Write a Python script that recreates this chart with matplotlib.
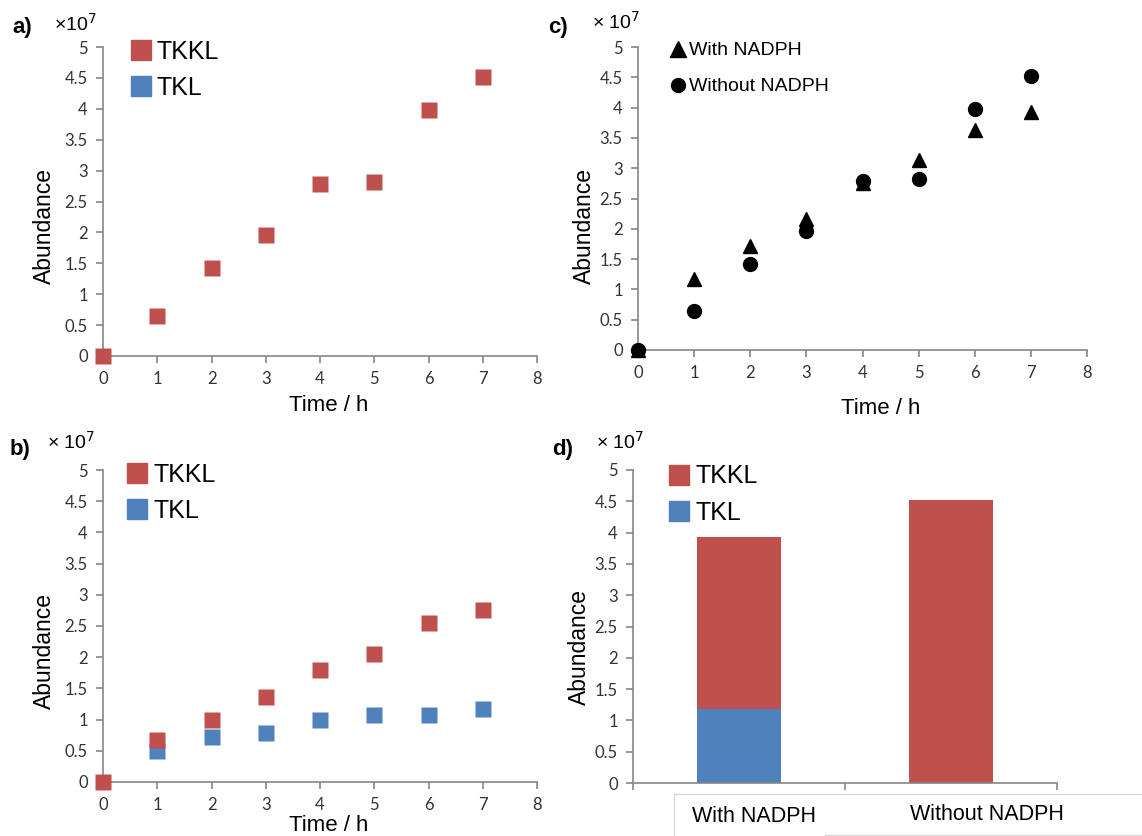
import matplotlib
matplotlib.use("Agg")
import matplotlib.pyplot as plt
from matplotlib.lines import Line2D
from matplotlib.ticker import FormatStrFormatter

# data (abundance in units of 1e7)
hours = [0, 1, 2, 3, 4, 5, 6, 7]
tkkl_a = [0, 0.65, 1.42, 1.96, 2.79, 2.82, 3.98, 4.52]
tkkl_b = [0, 0.67, 0.99, 1.36, 1.79, 2.05, 2.55, 2.76]
tkl_b = [None, 0.50, 0.72, 0.79, 0.99, 1.08, 1.08, 1.17]
with_nadph = [0, 1.17, 1.72, 2.16, 2.75, 3.14, 3.63, 3.93]
without_nadph = [0, 0.65, 1.42, 1.96, 2.79, 2.82, 3.98, 4.52]
conditions = ["With NADPH", "Without NADPH"]
tkl_d = [1.18, 0]
tkkl_d = [2.75, 4.52]

RED = "#C0504D"
BLUE = "#4F81BD"
GREY = "#868686"
TICKFONT = "Lato"
LABELFONT = "Liberation Sans"

W, H = 1142, 836
fig = plt.figure(figsize=(W / 100, H / 100), dpi=100)


def px_axes(left, right, top, bottom):
    return fig.add_axes([left / W, 1 - bottom / H, (right - left) / W, (bottom - top) / H])


def style(ax, ylab_x, ylab_y):
    for s in ["top", "right"]:
        ax.spines[s].set_visible(False)
    for s in ["left", "bottom"]:
        ax.spines[s].set_color(GREY)
        ax.spines[s].set_linewidth(1.2)
    ax.set_ylim(0, 5)
    ax.set_yticks([i * 0.5 for i in range(11)])
    ax.yaxis.set_major_formatter(FormatStrFormatter("%g"))
    ax.tick_params(direction="out", length=5, width=1.2, color=GREY,
                   labelsize=12, labelcolor="#333333", pad=6)
    for lab in ax.get_yticklabels() + ax.get_xticklabels():
        lab.set_fontfamily(TICKFONT)
    ax.set_ylabel("Abundance", fontsize=16.5, fontfamily=LABELFONT)
    ax.yaxis.set_label_coords(ylab_x, ylab_y)


def scatter_axes(ax, ylab_x, ylab_y, xlab_x, xlab_y):
    ax.set_xlim(0, 8)
    ax.set_xticks(range(9))
    style(ax, ylab_x, ylab_y)
    ax.set_xlabel("Time / h", fontsize=16, fontfamily=LABELFONT)
    ax.xaxis.set_label_coords(xlab_x, xlab_y)


def sq_handles(ms=14):
    return [Line2D([], [], ls="", marker="s", ms=ms, color=RED, label="TKKL"),
            Line2D([], [], ls="", marker="s", ms=ms, color=BLUE, label="TKL")]


def sq_legend(ax, anchor):
    ax.legend(handles=sq_handles(), loc="upper left", bbox_to_anchor=anchor, frameon=False,
              prop={"family": LABELFONT, "size": 18}, handletextpad=0.15, labelspacing=0.5,
              handlelength=1.0, borderaxespad=0)


# a)
axa = px_axes(103, 537, 47, 356)
axa.plot(hours, tkkl_a, ls="", marker="s", ms=11, color=RED, mec="none", clip_on=False, zorder=3)
scatter_axes(axa, -0.108, 0.42, 0.52, -0.125)
sq_legend(axa, (0.035, 1.056))

# b)
axb = px_axes(103, 537, 470, 782)
axb.plot(hours[1:], tkl_b[1:], ls="", marker="s", ms=11, color=BLUE, mec="none", clip_on=False, zorder=3)
axb.plot(hours, tkkl_b, ls="", marker="s", ms=11, color=RED, mec="none", clip_on=False, zorder=3)
scatter_axes(axb, -0.108, 0.42, 0.52, -0.105)
sq_legend(axb, (0.027, 1.056))

# c)
axc = px_axes(638, 1087, 47, 350)
axc.plot(hours, with_nadph, ls="", marker="^", ms=10, color="black", clip_on=False, zorder=3)
axc.plot(hours, without_nadph, ls="", marker="o", ms=10, color="black", clip_on=False, zorder=4)
scatter_axes(axc, -0.094, 0.41, 0.54, -0.16)
c_handles = [Line2D([], [], ls="", marker="^", ms=12, color="black", label="With NADPH"),
             Line2D([], [], ls="", marker="o", ms=10, color="black", label="Without NADPH")]
axc.legend(handles=c_handles, loc="upper left", bbox_to_anchor=(0.05, 1.043), frameon=False,
           prop={"family": LABELFONT, "size": 14}, handletextpad=0.05, labelspacing=0.95,
           handlelength=1.0, borderaxespad=0)

# d)
axd = px_axes(633, 1057, 470, 783)
xpos = range(len(conditions))
axd.bar(xpos, tkl_d, width=0.4, color=BLUE, zorder=2)
axd.bar(xpos, tkkl_d, width=0.4, bottom=tkl_d, color=RED, zorder=2)
axd.set_xlim(-0.5, 1.5)
axd.set_xticks([-0.5, 0.5, 1.5])
axd.set_xticklabels([])
style(axd, -0.099, 0.435)
sq_legend(axd, (0.056, 1.05))
# category labels in a light box below the axis
fig.text(754 / W, 1 - 816 / H, conditions[0], ha="center", va="center",
         fontsize=15.5, fontfamily=LABELFONT)
fig.text(987 / W, 1 - 815 / H, conditions[1], ha="center", va="center",
         fontsize=15.5, fontfamily=LABELFONT)
fig.add_artist(Line2D([674 / W, 1], [1 - 794 / H, 1 - 794 / H], color="#D9D9D9", lw=1))
fig.add_artist(Line2D([674 / W, 674 / W], [1 - 794 / H, 0], color="#D9D9D9", lw=1))
fig.add_artist(Line2D([825 / W, 1], [1 - 835 / H, 1 - 835 / H], color="#D9D9D9", lw=1))

# panel letters and exponent labels
for letter, lx, ly, ex, ey, etxt in [("a)", 12, 28, 54, 24, r"×10$^{7}$"),
                                     ("c)", 548, 28, 592, 22, r"× 10$^{7}$"),
                                     ("b)", 10, 450, 47, 442, r"× 10$^{7}$"),
                                     ("d)", 552, 450, 596, 442, r"× 10$^{7}$")]:
    fig.text(lx / W, 1 - ly / H, letter, fontsize=16, fontweight="bold",
             fontfamily=LABELFONT, va="center")
    fig.text(ex / W, 1 - ey / H, etxt, fontsize=14, fontfamily=LABELFONT, va="center")

fig.savefig("out.png", dpi=100)
